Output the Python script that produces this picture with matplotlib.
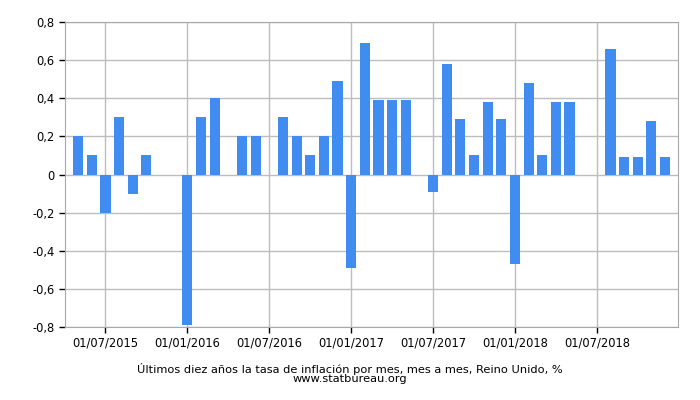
import matplotlib.pyplot as plt
from matplotlib.ticker import FuncFormatter

# monthly inflation, mes a mes, Reino Unido (May 2015 .. Dec 2018)
months = ["05/2015", "06/2015", "07/2015", "08/2015", "09/2015", "10/2015", "11/2015", "12/2015",
          "01/2016", "02/2016", "03/2016", "04/2016", "05/2016", "06/2016", "07/2016", "08/2016",
          "09/2016", "10/2016", "11/2016", "12/2016", "01/2017", "02/2017", "03/2017", "04/2017",
          "05/2017", "06/2017", "07/2017", "08/2017", "09/2017", "10/2017", "11/2017", "12/2017",
          "01/2018", "02/2018", "03/2018", "04/2018", "05/2018", "06/2018", "07/2018", "08/2018",
          "09/2018", "10/2018", "11/2018", "12/2018"]
values = [0.2, 0.1, -0.2, 0.3, -0.1, 0.1, 0.0, 0.0,
          -0.79, 0.3, 0.4, 0.0, 0.2, 0.2, 0.0, 0.3,
          0.2, 0.1, 0.2, 0.49, -0.49, 0.69, 0.39, 0.39,
          0.39, 0.0, -0.09, 0.58, 0.29, 0.1, 0.38, 0.29,
          -0.47, 0.48, 0.1, 0.38, 0.38, 0.0, 0.0, 0.66,
          0.09, 0.09, 0.28, 0.09]
tick_labels = ["01/07/2015", "01/01/2016", "01/07/2016", "01/01/2017",
               "01/07/2017", "01/01/2018", "01/07/2018"]

x = list(range(len(months)))
tick_pos = [months.index(t[3:]) for t in tick_labels]

fig = plt.figure(figsize=(7, 4), dpi=100)
ax = fig.add_axes([0.093, 0.1825, 0.8756, 0.7625])

ax.bar(x, values, width=0.74, color="#418cf0", zorder=3)

ax.set_xlim(-0.96, 43.95)
ax.set_ylim(-0.8, 0.8)
ax.set_yticks([-0.8, -0.6, -0.4, -0.2, 0, 0.2, 0.4, 0.6, 0.8])
ax.yaxis.set_major_formatter(FuncFormatter(
    lambda v, p: "0" if abs(v) < 1e-9 else ("%.1f" % v).replace(".", ",")))
ax.set_xticks(tick_pos)
ax.set_xticklabels(tick_labels)

ax.grid(True, color="#bdbdbd", linewidth=1, zorder=0)
for s in ax.spines.values():
    s.set_color("#a8a8a8")
ax.tick_params(axis="both", labelsize=8.3, color="black", length=4, width=1)
ax.tick_params(axis="x", pad=3)

fig.text(0.5, 0.066, "Últimos diez años la tasa de inflación por mes, mes a mes, Reino Unido, %\nwww.statbureau.org",
         ha="center", va="center", fontsize=8.2, linespacing=0.95)

fig.savefig("out.png")
